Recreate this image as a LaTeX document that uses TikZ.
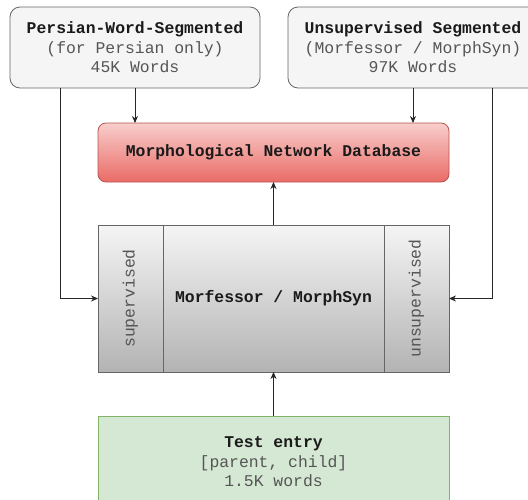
\documentclass[tikz,border=0pt]{standalone}
\usepackage{fontspec}
\setmonofont{Liberation Mono}
\usetikzlibrary{arrows.meta}
\definecolor{bxfill}{HTML}{F5F5F5}
\definecolor{bxline}{HTML}{666666}
\definecolor{redtop}{HTML}{F8CECC}
\definecolor{redbot}{HTML}{EA6B66}
\definecolor{redline}{HTML}{B85450}
\definecolor{graybot}{HTML}{B3B3B3}
\definecolor{grnfill}{HTML}{D5E8D4}
\definecolor{grnline}{HTML}{82B366}
\definecolor{txtgray}{HTML}{555555}
\definecolor{txtdark}{HTML}{1A1A1A}
\begin{document}
\begin{tikzpicture}[x=1pt,y=-1pt,
  every node/.style={inner sep=0pt,outer sep=0pt,font=\ttfamily\fontsize{16.4}{19.6}\selectfont,text=txtgray,align=center},
  srcbox/.style={draw=bxline,fill=bxfill,rounded corners=10pt,minimum width=250pt,minimum height=81pt,line width=0.8pt},
  dbbox/.style={draw=redline,top color=redtop,bottom color=redbot,rounded corners=8pt,minimum width=351pt,minimum height=59pt,line width=0.8pt},
  grybox/.style={draw=bxline,top color=bxfill,bottom color=graybot,minimum height=147pt,line width=0.8pt},
  testbox/.style={draw=grnline,fill=grnfill,minimum width=351pt,minimum height=92pt,line width=0.8pt},
  arr/.style={draw=black!85,line width=0.8pt,-{Stealth[length=7pt,width=6pt]}},
  hd/.style={text=txtdark,font=\ttfamily\bfseries\fontsize{16.4}{19.6}\selectfont}
]
\useasboundingbox (0,0) rectangle (528,499);
\clip (0,0) rectangle (528,499);

\node[srcbox] (tl) at (135,47.5) {\textcolor{txtdark}{\bfseries Persian-Word-Segmented}\\(for Persian only)\\45K Words};
\node[srcbox] (tr) at (413,47.5) {\textcolor{txtdark}{\bfseries Unsupervised Segmented}\\(Morfessor / MorphSyn)\\97K Words};

\node[dbbox,hd] (db) at (273.5,152.5) {Morphological Network Database};

\node[grybox,minimum width=65pt] (sup) at (130.5,298.5) {};
\node[grybox,minimum width=221pt,hd] (mid) at (273.5,298.5) {Morfessor / MorphSyn};
\node[grybox,minimum width=65pt] (uns) at (416.5,298.5) {};
\node[rotate=90] (suplbl) at (sup.center) {supervised};
\node[rotate=90] (unslbl) at (uns.center) {unsupervised};

\node[testbox] (test) at (273.5,462) {\textcolor{txtdark}{\bfseries Test entry}\\{}[parent, child]\\1.5K words};

\draw[arr] (tl.south) -- (tl.south |- db.north);
\draw[arr] (tr.south) -- (tr.south |- db.north);
\draw[arr] ([xshift=-75pt]tl.south) |- (sup.west);
\draw[arr] ([xshift=79pt]tr.south) |- (uns.east);
\draw[arr] (mid.north) -- (db.south);
\draw[arr] (test.north) -- (mid.south);
\end{tikzpicture}
\end{document}
